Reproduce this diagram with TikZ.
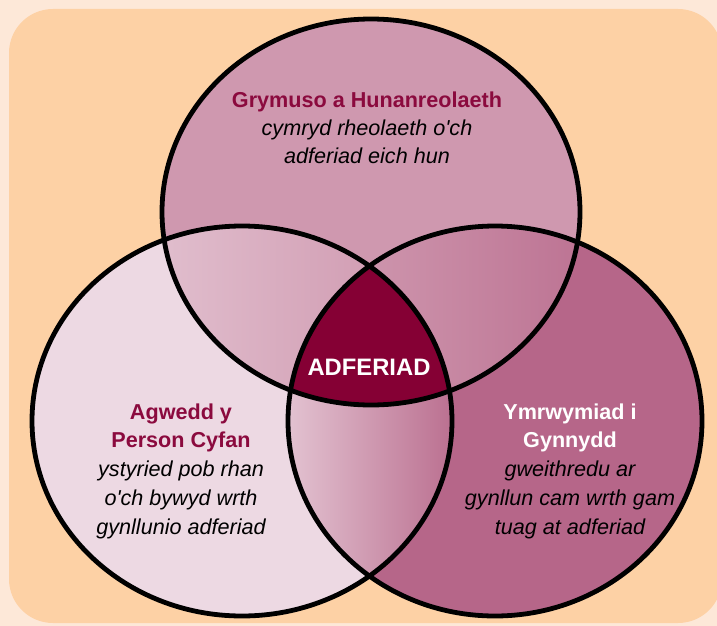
\documentclass[tikz,border=0pt]{standalone}
\usepackage{fontspec}
\setmainfont{Liberation Sans}
\definecolor{pagebg}{HTML}{FDE8D8}
\definecolor{panel}{HTML}{FDD1A5}
\definecolor{ctop}{HTML}{CF98AF}
\definecolor{cleft}{HTML}{EDD9E3}
\definecolor{cright}{HTML}{B66689}
\definecolor{ccore}{HTML}{850034}
\definecolor{ctitle}{HTML}{8B0A3E}
\tikzset{
  ttl/.style={anchor=base, inner sep=0pt, font=\fontsize{21.6}{28}\selectfont\bfseries, text=ctitle},
  ttlw/.style={ttl, text=white},
  body/.style={anchor=base, inner sep=0pt, font=\fontsize{21.6}{28}\selectfont\itshape, text=black},
  ring/.style={draw=black, line width=4.8pt},
}
\def\Ctop{(371,212) ellipse [x radius=209pt, y radius=193pt]}
\def\Cleft{(242,421) ellipse [x radius=210pt, y radius=195pt]}
\def\Cright{(495,421) ellipse [x radius=207pt, y radius=195pt]}
\newcommand{\apos}{\textquotesingle}
\begin{document}
\begin{tikzpicture}[x=1pt,y=-1pt]
\useasboundingbox (0,0) rectangle (717,626);
\fill[pagebg] (0,0) rectangle (717,626);
\fill[panel, rounded corners=44pt] (9,9) rectangle (722,623);
% base fills
\fill[ctop] \Ctop;
\fill[cleft] \Cleft;
\fill[cright] \Cright;
% left-top lens
\begin{scope}
  \clip \Ctop; \clip \Cleft;
  \shade[shading angle=70, left color=cleft!60!ctop, right color=ctop!92!cleft] (150,220) rectangle (380,420);
\end{scope}
% top-right lens
\begin{scope}
  \clip \Ctop; \clip \Cright;
  \shade[shading angle=110, left color=ctop!95!cright, right color=cright!75!ctop] (360,220) rectangle (590,420);
\end{scope}
% bottom lens
\begin{scope}
  \clip \Cleft; \clip \Cright;
  \shade[left color=cleft!65!ctop, right color=cright!80!ctop] (288,380) rectangle (452,585);
\end{scope}
% core
\begin{scope}
  \clip \Ctop; \clip \Cleft;
  \fill[ccore] \Cright;
\end{scope}
% outlines
\draw[ring] \Ctop;
\draw[ring] \Cleft;
\draw[ring] \Cright;
% texts
\node[ttl] (t1) at (367,107) {Grymuso a Hunanreolaeth};
\node[body] (t2) at (367,135) {cymryd rheolaeth o\apos ch};
\node[body] (t3) at (367,163) {adferiad eich hun};
\node[anchor=base, inner sep=0pt, font=\fontsize{23.8}{28}\selectfont\bfseries, text=white] (core) at (369,375) {ADFERIAD};
\node[ttl] (l1) at (181,419) {Agwedd y};
\node[ttl] (l2) at (181,447) {Person Cyfan};
\node[body] (l3) at (181,476) {ystyried pob rhan};
\node[body] (l4) at (181,505) {o\apos ch bywyd wrth};
\node[body] (l5) at (181,534) {gynllunio adferiad};
\node[ttlw] (r1) at (570,419) {Ymrwymiad i};
\node[ttlw] (r2) at (570,447) {Gynnydd};
\node[body] (r3) at (570,476) {gweithredu ar};
\node[body] (r4) at (570,505) {gynllun cam wrth gam};
\node[body] (r5) at (570,534) {tuag at adferiad};
\end{tikzpicture}
\end{document}
